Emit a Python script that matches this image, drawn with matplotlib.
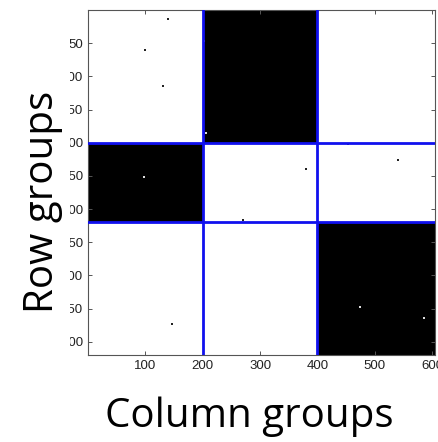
import numpy as np
import matplotlib
matplotlib.use("Agg")
import matplotlib.pyplot as plt
from matplotlib.transforms import Bbox

# group boundaries (rows / columns of the matrix)
row_edges = [0, 200, 320, 520]
col_edges = [0, 200, 400, 605]
# which block is filled (1 = black)
blocks = [[0, 1, 0],
          [1, 0, 0],
          [0, 0, 1]]

# stray entries: black ones in white blocks, white ones in black blocks
black_x = [140, 100, 130, 453, 540, 380, 271, 146]
black_y = [14, 60, 114, 202, 226, 239, 316, 474]
white_x = [205, 203, 97, 474, 585]
white_y = [185, 47, 251, 447, 464]

xticks = [100, 200, 300, 400, 500, 600]
yticks = [50, 100, 150, 200, 250, 300, 350, 400, 450, 500]

W, H = 438, 442
fig = plt.figure(figsize=(W / 100, H / 100), dpi=100)
ax = fig.add_axes([88 / W, (H - 355) / H, (435 - 88) / W, (355 - 10) / H])

ax.pcolormesh(col_edges, row_edges, np.array(blocks), cmap="Greys",
              vmin=0, vmax=1, shading="flat")
ax.scatter(black_x, black_y, s=3, marker="s", color="#222222", linewidths=0, zorder=3)
ax.scatter(white_x, white_y, s=3, marker="s", color="#dddddd", linewidths=0, zorder=3)

for r in row_edges[1:-1]:
    ax.axhline(r, color="#1010ee", lw=2.0, zorder=4)
for c in col_edges[1:-1]:
    ax.axvline(c, color="#1010ee", lw=2.0, zorder=4)

ax.set_xlim(col_edges[0], col_edges[-1])
ax.set_ylim(row_edges[-1], row_edges[0])
ax.set_xticks(xticks)
ax.set_yticks(yticks)
ax.tick_params(direction="in", length=3, width=0.7, color="#555555",
               top=True, right=True, labelsize=9.5, labelcolor="#222222", pad=3.5)
for lbl in ax.get_xticklabels() + ax.get_yticklabels():
    lbl.set_family("Liberation Sans")
for sp in ax.spines.values():
    sp.set_color("#555555")
    sp.set_linewidth(0.8)

# the screenshot crops the y tick labels on the left
for lbl in ax.get_yticklabels():
    lbl.set_clip_box(Bbox.from_extents(70, 0, W, H))
    lbl.set_clip_on(True)

fig.text(249 / W, (H - 427) / H, "Column groups", family="Open Sans",
         fontsize=29, ha="center", va="baseline")
fig.text(53 / W, (H - 202) / H, "Row groups", family="Open Sans",
         fontsize=29, rotation=90, rotation_mode="anchor",
         ha="center", va="baseline")

fig.savefig("out.png", dpi=100)
